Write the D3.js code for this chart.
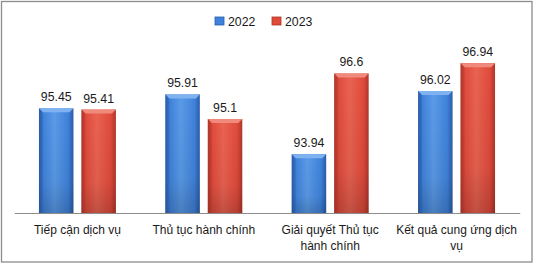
<!DOCTYPE html>
<html><head><meta charset="utf-8">
<script src="https://cdn.jsdelivr.net/npm/d3@7"></script>
<style>body{margin:0;background:#fff}svg{display:block}text{font-family:"Liberation Sans",Arial,sans-serif;fill:#1a1a1a}</style>
</head><body>
<svg id="c" width="535" height="264"></svg>
<script>
const categories = ["Tiếp cận dịch vụ", "Thủ tục hành chính", "Giải quyết Thủ tục hành chính", "Kết quả cung ứng dịch vụ"];
const categoryLines = [["Tiếp cận dịch vụ"], ["Thủ tục hành chính"], ["Giải quyết Thủ tục", "hành chính"], ["Kết quả cung ứng dịch", "vụ"]];
const series = ["2022", "2023"];
const values2022 = [95.45, 95.91, 93.94, 96.02];
const values2023 = [95.41, 95.1, 96.6, 96.94];
const seriesValues = [values2022, values2023];

const svg = d3.select("#c");
const W = 535, H = 264;
svg.append("rect").attr("x", 1.5).attr("y", 1.5).attr("width", 530.5).attr("height", 260.5)
  .attr("fill", "#fff").attr("stroke", "#8c8c8c").attr("stroke-width", 1.3);

const defs = svg.append("defs");
const palettes = [
  {dark: "#2a5ca8", mid: "#3f82db", light: "#5b9be8", top: "#7fb2f0"},
  {dark: "#b0362a", mid: "#e04a3b", light: "#ea6352", top: "#f08a7c"}
];
palettes.forEach((p, i) => {
  const g = defs.append("linearGradient").attr("id", "g" + i).attr("x1", 0).attr("x2", 1).attr("y1", 0).attr("y2", 0);
  g.append("stop").attr("offset", "0%").attr("stop-color", p.dark);
  g.append("stop").attr("offset", "12%").attr("stop-color", p.mid);
  g.append("stop").attr("offset", "45%").attr("stop-color", p.light);
  g.append("stop").attr("offset", "85%").attr("stop-color", p.mid);
  g.append("stop").attr("offset", "100%").attr("stop-color", p.dark);
  const v = defs.append("linearGradient").attr("id", "v" + i).attr("x1", 0).attr("x2", 0).attr("y1", 0).attr("y2", 1);
  v.append("stop").attr("offset", "0%").attr("stop-color", "#000").attr("stop-opacity", 0);
  v.append("stop").attr("offset", "70%").attr("stop-color", "#000").attr("stop-opacity", 0.05);
  v.append("stop").attr("offset", "100%").attr("stop-color", "#000").attr("stop-opacity", 0.18);
});

const x0 = d3.scaleBand().domain(categories).range([14.25, 519.75]);
const x1 = d3.scaleBand().domain(series).range([0, x0.bandwidth()]).paddingInner(0.188).paddingOuter(0.582);
const y = d3.scaleLinear().domain([92, 98]).range([213, 31]);

const bw = x1.bandwidth();
const bars = [];
categories.forEach((c, ci) => series.forEach((s, si) => bars.push({c, s, si, v: seriesValues[si][ci]})));

const g = svg.append("g");
const bar = g.selectAll("g.bar").data(bars).join("g").attr("class", "bar")
  .attr("transform", d => `translate(${x0(d.c) + x1(d.s)},0)`);
bar.append("rect").attr("x", 0).attr("width", bw).attr("y", d => y(d.v)).attr("height", d => y(92) - y(d.v))
  .attr("fill", d => `url(#g${d.si})`);
bar.append("rect").attr("x", 0).attr("width", bw).attr("y", d => y(d.v)).attr("height", d => y(92) - y(d.v))
  .attr("fill", d => `url(#v${d.si})`);
// top bevel
bar.append("path").attr("d", d => {
  const t = y(d.v), b = 4;
  return `M0,${t}L${bw},${t}L${bw - b},${t + b}L${b},${t + b}Z`;
}).attr("fill", d => palettes[d.si].top);
bar.append("path").attr("d", d => {
  const t = y(d.v), b = 4;
  return `M0,${t}L${b},${t + b}L${b},${y(92)}L0,${y(92)}Z`;
}).attr("fill", d => palettes[d.si].dark).attr("opacity", 0.35);

// value labels
g.selectAll("text.val").data(bars).join("text").attr("class", "val")
  .attr("x", d => x0(d.c) + x1(d.s) + bw / 2).attr("y", d => y(d.v) - 7)
  .attr("text-anchor", "middle").attr("font-size", 12.3).text(d => String(d.v));

// axis
const axis = svg.append("g").attr("transform", `translate(0,${y(92)})`)
  .call(d3.axisBottom(x0).tickSize(0).tickFormat(""));
axis.select(".domain").attr("stroke", "#8c8c8c").attr("stroke-width", 1);

// category labels
categories.forEach((c, ci) => {
  const t = svg.append("text").attr("text-anchor", "middle").attr("font-size", 12)
    .attr("x", x0(c) + x0.bandwidth() / 2).attr("y", 234);
  categoryLines[ci].forEach((ln, li) => t.append("tspan").attr("x", x0(c) + x0.bandwidth() / 2).attr("dy", li ? 16 : 0).text(ln));
});

// legend
const legX = [215, 272];
const leg = svg.selectAll("g.leg").data(series).join("g").attr("class", "leg")
  .attr("transform", (d, i) => `translate(${legX[i]},17)`);
leg.append("rect").attr("width", 9).attr("height", 8).attr("fill", (d, i) => palettes[i].mid)
  .attr("stroke", (d, i) => palettes[i].dark).attr("stroke-width", 0.8);
leg.append("text").attr("x", 13).attr("y", 8.5).attr("font-size", 12.3).text(d => d);
</script>
</body></html>
